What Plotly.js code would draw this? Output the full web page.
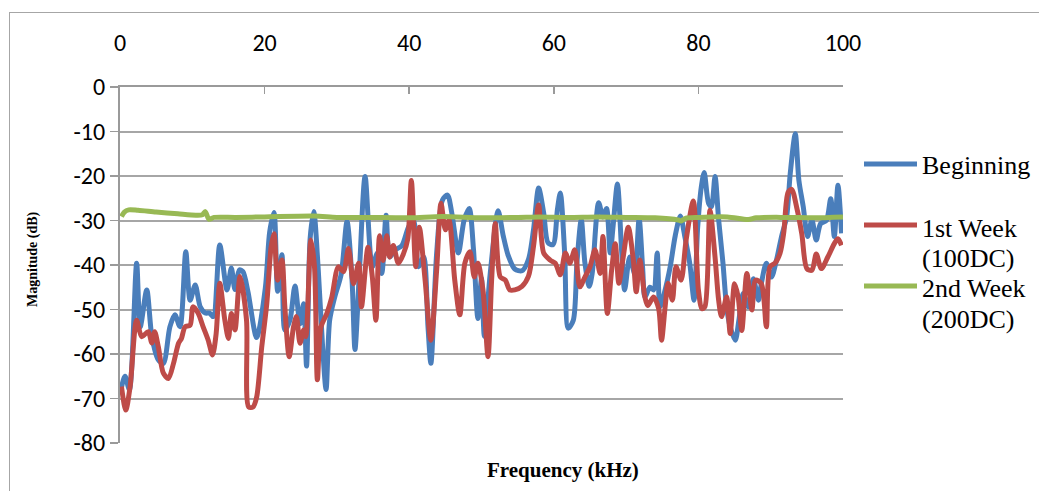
<!DOCTYPE html>
<html>
<head>
<meta charset="utf-8">
<script src="https://cdn.plot.ly/plotly-3.0.1.min.js"></script>
<style>
  html, body { margin: 0; padding: 0; background: #fff; overflow: hidden; }
  #frame { position: absolute; left: 9px; top: 12px; width: 1200px; height: 700px; border: 1px solid #a6a6a6; pointer-events: none; }
  #chart { position: absolute; left: 0; top: 0; width: 1039px; height: 491px; }
</style>
</head>
<body>
<div id="chart"></div>
<div id="frame"></div>
<script>
// ---- Data ----
const xTicks = [0, 20, 40, 60, 80, 100];
const yTicks = [0, -10, -20, -30, -40, -50, -60, -70, -80];
const seriesNames = ["Beginning", "1st Week", "(100DC)", "2nd Week", "(200DC)"];

const beginningX = [0.2,0.7,1.3,2.3,2.8,3.7,4.4,5.3,6.0,6.9,7.6,8.3,9.1,9.7,10.4,11.1,11.8,12.4,12.9,13.8,14.8,15.4,15.9,16.5,17.0,17.7,18.9,20.1,20.7,21.3,21.8,22.4,22.8,23.5,24.2,24.9,25.4,25.8,26.3,26.8,27.4,28.0,28.5,29.0,29.7,30.6,31.4,32.1,32.5,33.1,33.9,34.9,35.6,36.2,36.8,37.3,38.0,39.0,39.9,40.6,41.3,42.0,42.6,43.0,43.8,44.6,45.3,45.9,46.8,47.6,48.3,48.9,49.5,50.0,50.4,51.2,52.3,53.0,53.7,54.6,55.6,56.5,57.2,57.9,58.6,59.2,59.9,60.5,60.9,61.5,62.0,62.7,63.2,63.8,64.3,64.9,65.3,66.2,66.8,67.3,67.8,68.2,68.8,69.4,69.8,70.5,71.2,71.8,72.3,72.6,73.3,73.8,74.3,74.7,75.4,76.1,76.8,77.5,78.1,78.8,79.4,79.9,80.4,80.8,81.4,81.8,82.3,82.8,83.4,83.9,84.4,85.1,85.6,86.2,86.9,87.6,88.3,88.7,89.4,90.1,90.8,91.5,92.2,92.7,93.4,93.9,94.5,95.1,95.7,96.3,96.9,97.7,98.3,98.8,99.3,99.8];
const beginningY = [-67.5,-65,-68,-39.6,-53.9,-45.6,-56,-61.3,-62.1,-53.9,-51.2,-53.9,-37.0,-47.9,-44.5,-49.4,-50.8,-50.8,-51.6,-35.5,-45.6,-40.7,-45.5,-41.1,-41.5,-46,-56.3,-45.2,-32.6,-28.2,-45.9,-37.7,-54.6,-52.4,-44.7,-53.2,-48.7,-62.7,-34,-28,-40.5,-57.7,-68,-52.4,-47.2,-42,-30.2,-43.6,-59,-42,-20.1,-40.4,-37.3,-41.9,-28.8,-38.2,-36.7,-35.6,-31.5,-30,-40.4,-38.2,-53.9,-62.1,-37.3,-25.4,-24.3,-28.4,-37.3,-29.9,-27.3,-36.7,-52,-43,-56,-42,-27.8,-33.4,-37.9,-40.9,-41.3,-38.7,-32,-22.7,-28.3,-35,-35.4,-27.5,-23.8,-37.3,-54.2,-52.4,-39.5,-29.8,-39.5,-44.8,-42,-26,-29.2,-27.3,-37.3,-31.3,-21.8,-37.3,-45.6,-38.2,-42,-29.6,-41,-47.2,-45,-45.6,-37.3,-49.4,-45.6,-40.4,-33.4,-29,-33.4,-39.6,-47.9,-31.5,-22.5,-19.2,-26.1,-26.9,-20.1,-29.8,-39.6,-49.4,-53.9,-56.9,-52.4,-46.4,-49.4,-43.1,-47.9,-44.2,-39.6,-42.7,-38.9,-33.6,-29.2,-19.5,-10.5,-21,-26.9,-33.6,-29.9,-34.4,-30.7,-30,-25.1,-33.6,-22.1,-32.9];

const week1X = [0.2,0.8,1.4,2.3,3.0,3.9,4.4,4.8,5.3,6.0,6.7,7.4,8.1,8.5,9.0,9.7,10.1,10.8,11.5,12.2,12.8,13.3,13.8,14.5,15.0,15.4,15.9,16.6,17.5,17.8,18.4,18.9,19.6,20.3,20.9,21.3,21.8,22.4,22.8,23.4,24.0,24.4,24.9,25.4,25.7,26.4,26.9,27.3,27.8,28.6,29.3,30.2,30.9,31.6,32.3,33.0,33.4,34.3,34.9,35.4,35.9,36.4,36.9,37.3,37.8,38.5,39.2,39.8,40.3,40.9,41.4,42.2,43.0,43.8,44.4,45.0,45.5,46.3,47.0,47.7,48.4,49.0,49.5,50.2,50.9,51.4,51.9,52.6,53.3,53.9,54.6,55.6,56.5,57.2,57.9,58.6,59.5,60.2,60.9,61.6,62.2,62.9,63.6,64.3,65.0,65.7,66.4,66.8,67.4,68.0,68.5,69.0,69.6,70.3,71.0,71.4,71.9,72.6,73.0,73.8,74.5,74.9,75.4,75.8,76.4,76.9,77.6,78.3,79.3,80.0,80.5,80.9,81.6,82.3,82.8,83.2,83.9,84.4,85.0,85.5,86.0,86.7,87.4,87.9,88.7,89.4,89.9,90.6,91.3,91.8,92.4,92.9,93.6,94.3,95.0,95.7,96.3,97.0,97.9,98.8,99.3,99.8];
const week1Y = [-67.3,-72.6,-67.3,-52.4,-56.1,-55.0,-57.5,-55.0,-58.4,-64.3,-65.5,-62.1,-57.6,-56.5,-53.9,-53.5,-49.4,-50.8,-53.9,-56.9,-60.2,-55.4,-44.1,-52.4,-56.5,-50.9,-54.6,-42.6,-52.4,-71.9,-71.9,-69.7,-58.5,-48.7,-36,-33,-43.4,-38.9,-49.4,-60.6,-53.9,-51.6,-57.6,-54.6,-56.1,-34.4,-40.4,-65.8,-53.9,-50.9,-47.2,-40.4,-41.5,-36.3,-44.2,-39.6,-49.4,-36,-42.7,-52.4,-33.4,-39,-33.4,-38.2,-35.6,-39.6,-37.5,-34.2,-21,-40.4,-31.5,-43.4,-56.9,-41.1,-26.1,-32.1,-29.9,-43.4,-51.2,-39.6,-37,-42.7,-39.6,-45.6,-60.6,-43.4,-30.7,-42.7,-43.4,-45.6,-45.6,-44.8,-42.5,-35.7,-26.5,-37.3,-38.9,-39.6,-42.2,-37.3,-39.6,-36.6,-44.9,-42.7,-40.4,-36.6,-41.9,-33.6,-50.9,-41.1,-35.2,-44.1,-38.2,-31.5,-38.9,-46,-38.9,-47.2,-49.1,-47.2,-49.8,-56.9,-49.4,-44.1,-47.9,-40.4,-43.4,-34.4,-25.6,-45.6,-49.8,-49.4,-27.7,-38.2,-47.9,-51.6,-47.2,-55.4,-44.2,-47.2,-54.7,-41.9,-50.1,-43.4,-44.2,-53.9,-40.4,-39.6,-37.3,-32.8,-23.7,-23,-27.1,-33,-40.8,-41.2,-37.5,-40.8,-38.2,-35.2,-34.1,-35.6];

const week2X = [0.2,0.6,1.2,2.5,5,8,10.5,11.4,11.8,12.3,13,16,20,26.8,30,34,40,44.6,50,55,58,62,66,70,74,77.2,77.6,78.2,80,84,86.9,88,92,96,100];
const week2Y = [-29.1,-28.1,-27.6,-27.7,-28.1,-28.5,-28.8,-28.7,-28.0,-29.7,-29.3,-29.3,-29.2,-29.0,-29.3,-29.3,-29.4,-29.1,-29.4,-29.3,-29.2,-29.3,-29.2,-29.3,-29.4,-29.9,-30.1,-29.5,-29.3,-29.2,-29.8,-29.4,-29.3,-29.4,-29.2];

const colors = ["#4a7ebb", "#be4b48", "#98b954"];

// ---- geometry helpers (pixel -> paper) ----
const L = 120, R = 843, T = 87, B = 443;
const px = v => (v - L) / (R - L);
const py = v => (B - v) / (B - T);

const lineStyle = (c) => ({ color: c, width: 5, shape: "spline", smoothing: 0.8 });

const traces = [
  { x: beginningX, y: beginningY, name: "Beginning", mode: "lines", line: lineStyle(colors[0]), showlegend: false },
  { x: week1X, y: week1Y, name: "1st Week (100DC)", mode: "lines", line: lineStyle(colors[1]), showlegend: false },
  { x: week2X, y: week2Y, name: "2nd Week (200DC)", mode: "lines", line: lineStyle(colors[2]), showlegend: false }
];

const tickFont = { family: "Carlito, 'Liberation Sans Narrow', 'Arial Narrow', sans-serif", size: 24, color: "#000" };
const serif = "'Liberation Serif', 'Times New Roman', serif";

const legendRows = [
  { c: colors[0], lineY: 164, text: [[seriesNames[0], 165]] },
  { c: colors[1], lineY: 225, text: [[seriesNames[1], 228], [seriesNames[2], 258]] },
  { c: colors[2], lineY: 286, text: [[seriesNames[3], 288], [seriesNames[4], 319]] }
];

const shapes = [];
const annotations = [];
legendRows.forEach(r => {
  shapes.push({ type: "line", xref: "paper", yref: "paper", x0: px(864), x1: px(917), y0: py(r.lineY), y1: py(r.lineY),
    line: { color: r.c, width: 5 } });
  r.text.forEach(([t, y]) => annotations.push({ xref: "paper", yref: "paper", x: px(920), y: py(y),
    xanchor: "left", yanchor: "middle", showarrow: false, text: t,
    font: { family: serif, size: 26, color: "#000" } }));
});
annotations.push({ xref: "paper", yref: "paper", x: px(563), y: py(470), xanchor: "center", yanchor: "middle",
  showarrow: false, text: "<b>Frequency (kHz)</b>", font: { family: serif, size: 21, color: "#000" } });
annotations.push({ xref: "paper", yref: "paper", x: px(33), y: py(259), xanchor: "center", yanchor: "middle",
  showarrow: false, textangle: -90, text: "<b>Magnitude (dB)</b>", font: { family: serif, size: 14, color: "#000" } });

const layout = {
  width: 1039, height: 491,
  margin: { l: L, r: 1039 - R, t: T, b: 491 - B, pad: 0 },
  paper_bgcolor: "#fff", plot_bgcolor: "#fff",
  showlegend: false,
  xaxis: {
    range: [0, 100], side: "top", tickvals: xTicks, ticktext: xTicks.map(String),
    ticks: "inside", ticklen: 7, tickwidth: 1.5, tickcolor: "#9a9a9a",
    showline: true, linecolor: "#9a9a9a", linewidth: 2,
    showgrid: false, zeroline: false, tickfont: tickFont, ticklabelstandoff: 24
  },
  yaxis: {
    range: [-80, 0], tickvals: yTicks, ticktext: yTicks.map(String),
    ticks: "outside", ticklen: 8, tickwidth: 1.5, tickcolor: "#9a9a9a",
    showline: true, linecolor: "#9a9a9a", linewidth: 2,
    showgrid: true, gridcolor: "#a6a6a6", gridwidth: 2, zeroline: false, tickfont: tickFont
  },
  shapes: shapes,
  annotations: annotations
};

Plotly.newPlot("chart", traces, layout, { displayModeBar: false, staticPlot: true });
</script>
</body>
</html>
